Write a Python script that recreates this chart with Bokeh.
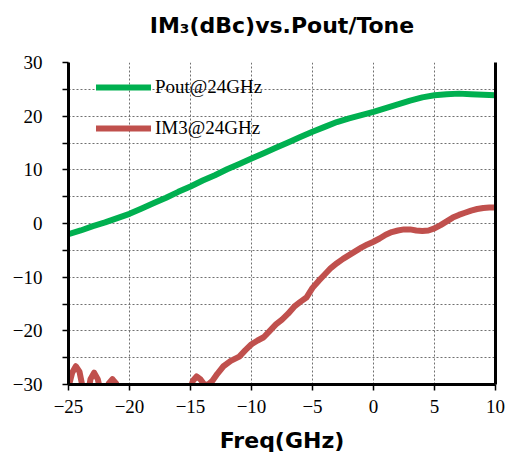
from bokeh.plotting import figure
from bokeh.models import (Range1d, FixedTicker, LinearAxis, Legend, LegendItem, Grid,
                          ColumnDataSource, CustomJSTickFormatter, Title)
from bokeh.embed import file_html
from bokeh.resources import INLINE

# Data
pout_freq = [-25, -24, -23, -22, -21, -20, -19, -18, -17, -16, -15, -14, -13, -12, -11, -10,
             -9, -8, -7, -6, -5, -4, -3, -2, -1, 0, 1, 2, 3, 4, 5, 6, 7, 8, 9, 10]
pout_dbm = [-2.0, -1.3, -0.5, 0.2, 1.0, 1.8, 2.8, 3.8, 4.8, 5.9, 6.9, 8.0, 9.0, 10.1, 11.1, 12.1,
            13.1, 14.1, 15.1, 16.1, 17.1, 18.0, 18.9, 19.6, 20.2, 20.8, 21.5, 22.2, 22.9, 23.5,
            23.9, 24.1, 24.2, 24.1, 24.0, 23.9]

im3_freq = [-25.0, -24.7, -24.4, -24.1, -23.8, -23.5, -23.2, -22.9, -22.6, -22.3, -22.0, -21.7,
            -21.4, -21.1, -20.8, -20.0, -16.0, -15.2, -14.8, -14.5, -14.2, -13.9, -13.6, -13.2,
            -12.8, -12.3, -11.7, -11.0, -10.5, -10.0, -9.5, -9.0, -8.5, -8.0, -7.5, -7.0, -6.5,
            -6.0, -5.5, -5.0, -4.5, -4.0, -3.5, -3.0, -2.5, -2.0, -1.5, -1.0, -0.5, 0.0, 0.5,
            1.0, 1.5, 2.0, 2.5, 3.0, 3.5, 4.0, 4.5, 5.0, 5.5, 6.0, 6.5, 7.0, 7.5, 8.0, 8.5, 9.0,
            9.5, 10.0]
im3_dbc = [-30.5, -27.8, -26.6, -27.6, -31.0, -33.0, -29.0, -27.8, -29.0, -32.0, -33.0, -29.8,
           -29.0, -29.8, -33.0, -35.0, -35.0, -32.0, -29.3, -28.5, -29.0, -29.9, -30.1, -29.3,
           -28.0, -26.6, -25.6, -24.8, -23.6, -22.5, -21.8, -21.2, -20.0, -18.8, -17.9, -16.8,
           -15.5, -14.6, -13.8, -12.0, -10.7, -9.5, -8.3, -7.4, -6.6, -5.9, -5.2, -4.5, -3.9,
           -3.4, -2.8, -2.1, -1.6, -1.3, -1.1, -1.1, -1.3, -1.4, -1.3, -0.9, -0.3, 0.4, 1.1,
           1.6, 2.0, 2.4, 2.7, 2.9, 3.0, 3.0]

x_ticks = [-25, -20, -15, -10, -5, 0, 5, 10]
y_ticks = [-30, -25, -20, -15, -10, -5, 0, 5, 10, 15, 20, 25, 30]

series_names = ["Pout@24GHz", "IM3@24GHz"]
title_text = "IM\u2083(dBc)vs.Pout/Tone"
x_title = "Freq(GHz)"

serif = "Liberation Serif"

p = figure(width=508, height=456, output_backend="svg", toolbar_location=None,
           x_range=Range1d(-25, 10), y_range=Range1d(-30, 30),
           min_border_left=68, min_border_right=13, min_border_bottom=72, min_border_top=62,
           title=None, x_axis_type=None, y_axis_type=None)
p.outline_line_color = None
p.background_fill_color = "white"
p.border_fill_color = "white"

p.add_layout(Title(text=" ", text_font_size="21px", standoff=0), "above")
p.add_layout(Title(text=title_text, text_font="DejaVu Sans", text_font_style="bold",
                   text_font_size="22px", align="center", text_color="black", standoff=0),
             "above")

x_fmt = CustomJSTickFormatter(code="return String(tick).replace('-', '\\u2212');")
y_fmt = CustomJSTickFormatter(
    code="return (Math.abs(tick) % 10 == 0) ? String(tick).replace('-', '\\u2212') : '';")

xa = LinearAxis(ticker=FixedTicker(ticks=x_ticks), formatter=x_fmt,
                axis_label=x_title,
                axis_label_text_font="DejaVu Sans", axis_label_text_font_style="bold",
                axis_label_text_font_size="22px", axis_label_text_color="black",
                axis_label_standoff=12,
                major_label_text_font=serif, major_label_text_font_size="19px",
                major_label_text_color="black", major_label_standoff=9,
                axis_line_width=3, axis_line_color="black",
                major_tick_out=6, major_tick_in=0, major_tick_line_width=1.5,
                minor_tick_line_color=None)
p.add_layout(xa, "below")

ya = LinearAxis(ticker=FixedTicker(ticks=y_ticks), formatter=y_fmt,
                major_label_text_font=serif, major_label_text_font_size="19px",
                major_label_text_color="black", major_label_standoff=20,
                axis_line_width=3, axis_line_color="black",
                major_tick_out=6, major_tick_in=0, major_tick_line_width=1.5,
                minor_tick_line_color=None)
p.add_layout(ya, "left")

ra = LinearAxis(ticker=FixedTicker(ticks=[]), major_label_text_font_size="0px",
                major_tick_line_color=None, minor_tick_line_color=None,
                axis_line_width=3, axis_line_color="black")
p.add_layout(ra, "right")

gx = Grid(dimension=0, ticker=FixedTicker(ticks=x_ticks), grid_line_color="#707070",
          grid_line_dash="2 2", grid_line_width=1)
gy = Grid(dimension=1, ticker=FixedTicker(ticks=y_ticks), grid_line_color="#707070",
          grid_line_dash="2 2", grid_line_width=1)
p.add_layout(gx)
p.add_layout(gy)

src_p = ColumnDataSource(dict(x=pout_freq, y=pout_dbm))
src_i = ColumnDataSource(dict(x=im3_freq, y=im3_dbc))
r1 = p.line("x", "y", source=src_p, line_color="#00B050", line_width=6,
            line_join="round", line_cap="round")
r2 = p.line("x", "y", source=src_i, line_color="#C0504D", line_width=6,
            line_join="round", line_cap="round")

legend = Legend(items=[LegendItem(label=series_names[0], renderers=[r1]),
                       LegendItem(label=series_names[1], renderers=[r2])],
                location=(28, 244))
legend.background_fill_alpha = 0
legend.border_line_color = None
legend.padding = 10
legend.margin = 0
legend.spacing = 17
legend.glyph_width = 55
legend.glyph_height = 24
legend.label_height = 24
legend.label_standoff = 4
legend.label_text_font = serif
legend.label_text_font_size = "19px"
legend.label_text_color = "black"
p.add_layout(legend, "center")

open("out.html", "w").write(file_html(p, INLINE))
